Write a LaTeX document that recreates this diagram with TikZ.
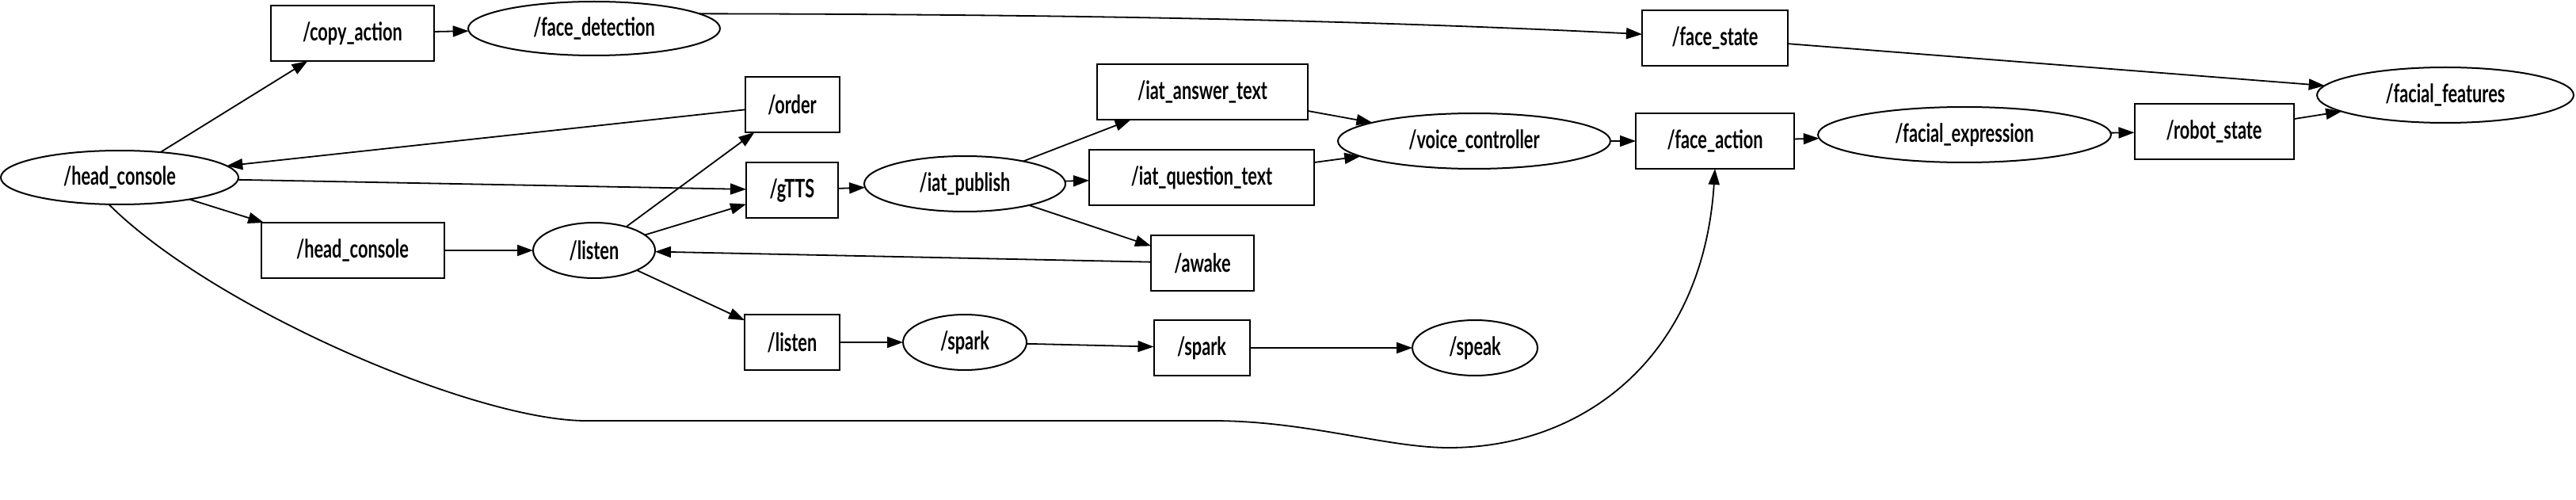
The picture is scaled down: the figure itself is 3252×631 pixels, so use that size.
\documentclass[tikz,border=0pt]{standalone}
\usepackage{fontspec}
\newfontfamily\lab[FakeStretch=0.68]{Lato}
\usetikzlibrary{arrows.meta,shapes.geometric}
\begin{document}
\begin{tikzpicture}[x=1pt,y=-1pt,
  topic/.style={draw,line width=2pt,rectangle,minimum height=70pt,inner sep=0pt,outer sep=0pt,font=\lab\bfseries\fontsize{32}{36}\selectfont},
  nodeell/.style={draw,line width=2pt,ellipse,minimum height=70pt,inner sep=0pt,outer sep=0pt,font=\lab\bfseries\fontsize{32}{36}\selectfont},
  edge/.style={line width=1.8pt,-{Triangle[length=20pt,width=14pt]}}]
\path[use as bounding box] (0,0) rectangle (3252,631);
% nodes
\node[topic,minimum width=206pt] (copy) at (445,42) {/copy\_action};
\node[nodeell,minimum width=318pt,minimum height=68pt] (fd) at (750,36) {/face\_detection};
\node[nodeell,minimum width=300pt,minimum height=68pt] (hce) at (151,224) {/head\_console};
\node[topic,minimum width=231pt] (hcb) at (445,316) {/head\_console};
\node[nodeell,minimum width=154pt] (li) at (750,316) {/listen};
\node[topic,minimum width=119pt] (order) at (1000,132) {/order};
\node[topic,minimum width=116pt] (gtts) at (1000,240) {/gTTS};
\node[nodeell,minimum width=254pt] (ip) at (1218,232) {/iat\_publish};
\node[topic,minimum width=266pt] (iat) at (1518,116) {/iat\_answer\_text};
\node[topic,minimum width=284pt] (iqt) at (1517,224) {/iat\_question\_text};
\node[topic,minimum width=130pt] (awake) at (1518,332) {/awake};
\node[topic,minimum width=120pt] (lb) at (1000,432) {/listen};
\node[nodeell,minimum width=156pt] (sp) at (1218,432) {/spark};
\node[topic,minimum width=121pt] (sb) at (1517,439) {/spark};
\node[nodeell,minimum width=158pt] (speak) at (1862,439) {/speak};
\node[nodeell,minimum width=344pt] (vc) at (1861,178) {/voice\_controller};
\node[topic,minimum width=184pt] (fs) at (2165,48) {/face\_state};
\node[topic,minimum width=200pt] (fa) at (2165,178) {/face\_action};
\node[nodeell,minimum width=370pt] (fe) at (2480,170) {/facial\_expression};
\node[topic,minimum width=201pt] (rs) at (2795,166) {/robot\_state};
\node[nodeell,minimum width=324pt] (ff) at (3087,120) {/facial\_features};
% edges
\draw[edge] (hce) -- (copy);
\draw[edge] (copy) -- (fd);
\draw[edge] (fd.8) .. controls (1250,18) and (1650,22) .. (fs.177);
\draw[edge] (fs) -- (ff);
\draw[edge] (order) -- (hce);
\draw[edge] (hce) -- (gtts);
\draw[edge] (hce) -- (hcb);
\draw[edge] (hce.-112) .. controls (270,390) and (600,531) .. (740,531) -- (1531,531)
  .. controls (1650,531) and (1750,565) .. (1829,565)
  .. controls (2000,565) and (2150,450) .. (fa.south);
\draw[edge] (hcb) -- (li);
\draw[edge] (li) -- (order);
\draw[edge] (li) -- (gtts);
\draw[edge] (awake) -- (li);
\draw[edge] (li) -- (lb);
\draw[edge] (gtts) -- (ip);
\draw[edge] (ip) -- (iat);
\draw[edge] (ip) -- (iqt);
\draw[edge] (ip) -- (awake);
\draw[edge] (iat) -- (vc);
\draw[edge] (iqt) -- (vc);
\draw[edge] (vc) -- (fa);
\draw[edge] (fa) -- (fe);
\draw[edge] (fe) -- (rs);
\draw[edge] (rs) -- (ff);
\draw[edge] (lb) -- (sp);
\draw[edge] (sp) -- (sb);
\draw[edge] (sb) -- (speak);
\end{tikzpicture}
\end{document}
